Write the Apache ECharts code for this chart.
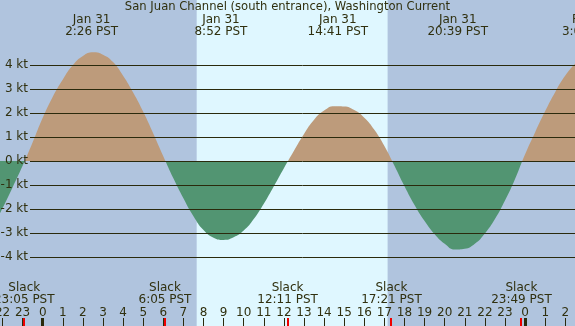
<!DOCTYPE html>
<html><head><meta charset="utf-8">
<script src="https://cdn.jsdelivr.net/npm/echarts@6/dist/echarts.min.js"></script>
<style>html,body{margin:0;padding:0;background:#b0c4de}#c{width:575px;height:326px}</style>
</head><body><div id="c"></div>
<script>
// ---- data ----
const chartTitle = 'San Juan Channel (south entrance), Washington Current';
// hours from midnight Jan 31 (PST) and current speed in knots
const curveHours = [-2.125, -2.0, -1.5, -1.0, -0.5, 0, 0.5, 1, 1.5, 2, 2.5, 3, 3.5, 4, 4.5, 5, 5.5, 6,
  6.5, 7, 7.5, 8, 8.5, 9, 9.5, 10, 10.5, 11, 11.5, 12,
  12.5, 13, 13.5, 14, 14.5, 15, 15.5, 16, 16.5, 17,
  17.5, 18, 18.5, 19, 19.5, 20, 20.5, 21, 21.5, 22, 22.5, 23, 23.5,
  24, 24.5, 25, 25.5, 26, 26.483];
const curveKnots = [-2.18, -1.97, -1.1, -0.2, 0.78, 1.8, 2.68, 3.4, 4.0, 4.38, 4.53, 4.43, 4.12, 3.55, 2.85, 2.05, 1.15, 0.2,
  -0.72, -1.55, -2.3, -2.88, -3.2, -3.29, -3.18, -2.9, -2.42, -1.78, -1.05, -0.3,
  0.43, 1.13, 1.72, 2.1, 2.28, 2.27, 2.12, 1.8, 1.3, 0.62,
  -0.2, -1.05, -1.83, -2.5, -3.05, -3.45, -3.69, -3.66, -3.45, -3.02, -2.42, -1.65, -0.75,
  0.28, 1.2, 2.08, 2.88, 3.56, 4.05];
const speedLevels = [-4, -3, -2, -1, 0, 1, 2, 3, 4];
const hourTicks = [-2,-1,0,1,2,3,4,5,6,7,8,9,10,11,12,13,14,15,16,17,18,19,20,21,22,23,24,25,26];
const maxHours = [2.433, 8.867, 14.683, 20.65, 27.15];
const maxDates = ['Jan 31', 'Jan 31', 'Jan 31', 'Jan 31', 'Feb 1'];
const maxTimes = ['2:26 PST', '8:52 PST', '14:41 PST', '20:39 PST', '3:09 PST'];
const slackHours = [-0.917, 6.083, 12.183, 17.35, 23.817];
const slackTimes = ['23:05 PST', '6:05 PST', '12:11 PST', '17:21 PST', '23:49 PST'];
const midnightHours = [0, 24];
const dayStartHour = 7.66, dayEndHour = 17.16;

// ---- styles ----
const xMin = -2.125, xMax = 26.483, yMin = -6.875, yMax = 6.7083;
const FONT = 'DejaVu Sans';
const TXT = '#30300f';
const LINE = '#2a2a0c';
const NIGHT = '#b0c4de', DAY = '#dff7ff';
const FLOOD = '#bd9b7b', EBB = '#529572';

const chart = echarts.init(document.getElementById('c'), null, {renderer: 'canvas'});

const option = {
  backgroundColor: NIGHT,
  animation: false,
  title: {text: chartTitle, left: 'center', top: 0, padding: [1, 0, 0, 0],
    textStyle: {fontFamily: FONT, fontSize: 11.6, fontWeight: 'normal', color: TXT}},
  grid: [{left: 0, right: 0, top: 0, bottom: 0, outerBoundsMode: 'none', containLabel: false},
         {left: 30, right: 0, top: 0, bottom: 0, outerBoundsMode: 'none', containLabel: false}],
  xAxis: [
    {type: 'value', gridIndex: 0, min: xMin, max: xMax, z: 5, splitLine: {show: false},
      axisLine: {show: false, onZero: false},
      axisTick: {show: true, inside: true, length: 8, customValues: hourTicks, lineStyle: {color: LINE, width: 1}},
      axisLabel: {show: true, inside: true, margin: 7, customValues: hourTicks,
        formatter: v => String(((Math.round(v) % 24) + 24) % 24),
        fontFamily: FONT, fontSize: 12, color: TXT}},
    {type: 'value', gridIndex: 1, min: 0, max: 1, show: false}
  ],
  yAxis: [
    {type: 'value', gridIndex: 0, min: yMin, max: yMax, show: false},
    {type: 'value', gridIndex: 1, min: yMin, max: yMax, show: false}
  ],
  series: [
    {type: 'line', xAxisIndex: 0, yAxisIndex: 0, data: [], z: 0, silent: true,
      markArea: {silent: true, itemStyle: {color: DAY}, emphasis: {disabled: true},
        data: [[{xAxis: dayStartHour}, {xAxis: dayEndHour}]]}},
    {type: 'line', xAxisIndex: 1, yAxisIndex: 1, data: [], z: 1, silent: true,
      markLine: {silent: true, symbol: 'none', emphasis: {disabled: true},
        lineStyle: {color: LINE, width: 1, type: 'solid'},
        label: {position: 'start', distance: 2, formatter: p => p.value + ' kt',
          fontFamily: FONT, fontSize: 12, color: TXT},
        data: speedLevels.map(k => ({yAxis: k}))}},
    {id: 'current', type: 'line', xAxisIndex: 0, yAxisIndex: 0, z: 2, silent: true,
      data: curveHours.map((h, i) => [h, curveKnots[i]]),
      smooth: 0.5, showSymbol: false, lineStyle: {width: 0}, areaStyle: {opacity: 1, color: FLOOD}}
  ]
};
chart.setOption(option);

// colour flood (above 0) and ebb (below 0) with a hard stop at the zero line
const zeroY = chart.convertToPixel({yAxisIndex: 0}, 0);
const H = chart.getHeight();
const f = zeroY / H;
const fill = new echarts.graphic.LinearGradient(0, 0, 0, H, [
  {offset: 0, color: FLOOD}, {offset: f, color: FLOOD}, {offset: f, color: EBB}, {offset: 1, color: EBB}], true);

// labels and special ticks placed through the x axis scale
const bottomY = chart.convertToPixel({yAxisIndex: 0}, yMin);
const gfx = [];
const xOf = h => chart.convertToPixel({xAxisIndex: 0}, h);
function text(t, x, y) {
  return {type: 'text', x: x, y: y, z: 100, silent: true,
    style: {text: t, align: 'center', verticalAlign: 'middle', font: '12px "' + FONT + '"', fill: TXT}};
}
maxHours.forEach((h, i) => { const x = xOf(h); gfx.push(text(maxDates[i], x, 19.5), text(maxTimes[i], x, 31.5)); });
slackHours.forEach((h, i) => { const x = xOf(h); gfx.push(text('Slack', x, 287.5), text(slackTimes[i], x, 299.5)); });
slackHours.forEach(h => gfx.push({type: 'rect', z: 100, silent: true,
  shape: {x: Math.round(xOf(h)) - 1, y: bottomY - 8, width: 2, height: 8}, style: {fill: '#ee0000'}}));
midnightHours.forEach(h => gfx.push({type: 'rect', z: 100, silent: true,
  shape: {x: Math.round(xOf(h) - 1.5), y: bottomY - 8, width: 3, height: 8}, style: {fill: LINE}}));
chart.setOption({
  series: [{id: 'current', areaStyle: {opacity: 1, color: fill}}],
  graphic: {elements: gfx}
});
</script>
</body></html>
